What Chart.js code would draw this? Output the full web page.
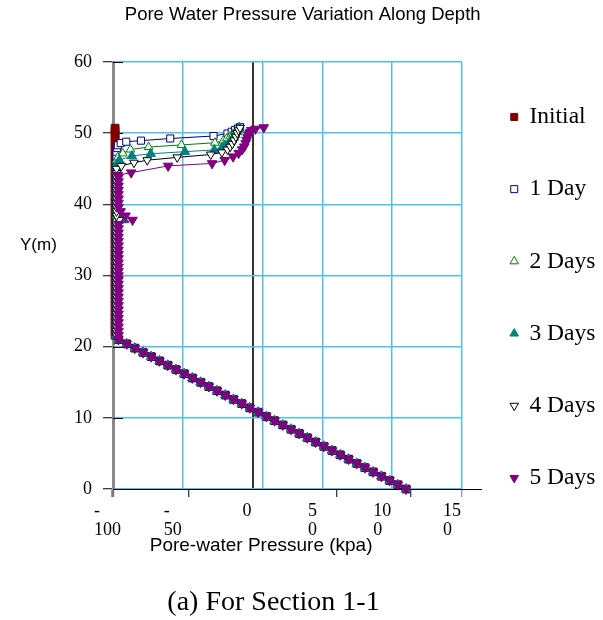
<!DOCTYPE html>
<html>
<head>
<meta charset="utf-8">
<title>Pore Water Pressure Variation Along Depth</title>
<script src="https://cdn.jsdelivr.net/npm/chart.js@4.4.1/dist/chart.umd.min.js"></script>
<style>
  html, body { margin: 0; padding: 0; background: #ffffff; }
  #wrap { width: 603px; height: 620px; }
</style>
</head>
<body>
<div id="wrap"><canvas id="chart" width="603" height="620"></canvas></div>
<script>
// ---- series ----
const seriesNames = ['Initial', '1 Day', '2 Days', '3 Days', '4 Days', '5 Days'];

// hydrostatic zone below the suction limit (elevation m, pore-water pressure kPa)
const lowerElevation = [0.0, 0.6, 1.2, 1.8, 2.4, 3.0, 3.6, 4.2, 4.8, 5.4, 6.0, 6.6, 7.2, 7.8, 8.4, 9.0, 9.6, 10.2,
  10.8, 11.4, 12.0, 12.6, 13.2, 13.8, 14.4, 15.0, 15.6, 16.2, 16.8, 17.4, 18.0, 18.6, 19.2, 19.8, 20.4, 21.0];
const lowerPressure = [109.9, 104.0, 98.1, 92.2, 86.3, 80.4, 74.6, 68.7, 62.8, 56.9, 51.0, 45.1, 39.2, 33.4, 27.5, 21.6, 15.7, 9.8,
  3.9, -2.0, -7.8, -13.7, -19.6, -25.5, -31.4, -37.3, -43.2, -49.0, -54.9, -60.8, -66.7, -72.6, -78.5, -84.4, -90.2, -96.1];

// suction-limited column shared by every series
const columnElevation = [21.6, 22.2, 22.8, 23.4, 24.0, 24.6, 25.2, 25.8, 26.4, 27.0, 27.6, 28.2, 28.8, 29.4,
  30.0, 30.6, 31.2, 31.8, 32.4, 33.0, 33.6, 34.2, 34.8, 35.4, 36.0, 36.6, 37.2];
const columnSuction = [-98.5, -97.5, -97.5, -97.5, -97.5, -96.0];

// upper zone with the wetting front, one pair of arrays per series
const initialElevation = [37.8, 38.4, 39.0, 39.6, 40.2, 40.8, 41.4, 42.0, 42.6, 43.2, 43.8, 44.4, 45.0, 45.6, 46.2, 46.8, 47.4,
  48.0, 48.6, 49.2, 49.8, 50.3, 50.7];
const initialPressure = [-98.5, -98.5, -98.5, -98.5, -98.5, -98.5, -98.5, -98.5, -98.5, -98.5, -98.5, -98.5, -98.5, -98.5, -98.5, -98.5, -98.5,
  -98.5, -98.5, -98.5, -98.5, -98.5, -98.5];

const day1Elevation = [37.8, 38.4, 39.0, 39.6, 40.2, 40.8, 41.4, 42.0, 42.6, 43.2, 43.8, 44.4, 45.0, 45.6, 46.2, 46.8, 47.4,
  47.9, 48.3, 48.6, 48.8, 48.95, 49.25, 49.6, 49.95, 50.2, 50.45, 50.65, 50.85];
const day1Pressure = [-97.5, -97.5, -97.5, -97.5, -97.5, -97.5, -97.5, -97.5, -97.5, -97.5, -97.5, -97.5, -97.5, -97.5, -97.5, -97.5, -97.5,
  -97.0, -96.5, -94.5, -90.5, -80.0, -59.0, -28.0, -18.0, -15.0, -12.5, -10.5, -9.0];

const day2Elevation = [37.8, 38.4, 39.0, 39.6, 40.2, 40.8, 41.4, 42.0, 42.6, 43.2, 43.8, 44.4, 45.0, 45.6, 46.2,
  46.6, 47.15, 47.7, 48.05, 48.35, 48.65, 48.95, 49.25, 49.55, 49.85, 50.15, 50.45, 50.75];
const day2Pressure = [-97.5, -97.5, -97.5, -97.5, -97.5, -97.5, -97.5, -97.5, -97.5, -97.5, -97.5, -97.5, -97.5, -97.5, -97.5,
  -96.5, -93.0, -87.5, -74.5, -51.0, -27.0, -21.0, -18.5, -16.0, -14.0, -12.5, -11.0, -9.5];

const day3Elevation = [37.8, 38.4, 39.0, 39.6, 40.2, 40.8, 41.4, 42.0, 42.6, 43.2, 43.8, 44.4, 45.0, 45.6,
  46.2, 46.8, 47.1, 47.4, 47.65, 47.95, 48.25, 48.6, 49.0, 49.4, 49.8, 50.2, 50.55, 50.8];
const day3Pressure = [-92.0, -96.5, -97.5, -97.5, -97.5, -97.5, -97.5, -97.5, -97.5, -97.5, -97.5, -97.5, -97.5, -97.5,
  -95.5, -86.5, -73.0, -48.5, -27.5, -22.0, -20.0, -17.0, -15.0, -13.5, -12.3, -11.2, -10.3, -9.5];

const day4Elevation = [37.8, 38.4, 39.0, 39.6, 40.2, 40.8, 41.4, 42.0, 42.6, 43.2, 43.8, 44.4, 45.0,
  45.4, 45.85, 46.2, 46.6, 47.0, 47.3, 47.7, 48.1, 48.5, 49.0, 49.5, 50.0, 50.4, 50.75];
const day4Pressure = [-95.5, -97.5, -97.5, -97.5, -97.5, -97.5, -97.5, -97.5, -97.5, -97.5, -97.5, -97.5, -97.5,
  -94.0, -85.0, -75.5, -54.0, -30.0, -22.0, -18.0, -16.0, -14.5, -13.2, -12.0, -11.0, -10.0, -9.0];

const day5Elevation = [37.8, 38.4, 39.0, 39.6, 40.2, 40.8, 41.4, 42.0, 42.6, 43.2, 43.8,
  44.1, 44.45, 45.4, 45.75, 46.2, 46.7, 47.2, 47.7, 48.1, 48.6, 49.0, 49.4, 49.8, 50.1, 50.4, 50.6, 50.8];
const day5Pressure = [-86.0, -91.0, -94.5, -96.0, -96.0, -96.0, -96.0, -96.0, -96.0, -96.0, -96.0,
  -96.5, -87.0, -60.5, -29.0, -20.0, -14.0, -10.0, -7.5, -6.0, -5.0, -4.3, -3.7, -3.0, -2.0, -1.0, 2.0, 8.0];

const upperElevation = [initialElevation, day1Elevation, day2Elevation, day3Elevation, day4Elevation, day5Elevation];
const upperPressure = [initialPressure, day1Pressure, day2Pressure, day3Pressure, day4Pressure, day5Pressure];

// ---- axes ----
const elevationTicks = [0, 10, 20, 30, 40, 50, 60];
const pressureTicks = [-100, -50, 0, 50, 100, 150];
const pressureTickLabels = [['-', '100'], ['-', '50'], '  0', [' 5', ' 0'], ['10', '0'], ['15', '0']];
const extraGridLines = [7];
const axisTickMarks = [-100, -46, 60, 113, 150];

// ---- look ----
const GRID_BLUE = '#4fc1f0';
const SERIF = '"Liberation Serif", "Times New Roman", serif';
const SANS = '"Liberation Sans", Arial, sans-serif';
const markerStyles = [
  { color: '#800000', fill: '#800000', shape: 'rect',     rotation: 0,   radius: 5.5 },
  { color: '#000080', fill: '#ffffff', shape: 'rect',     rotation: 0,   radius: 5 },
  { color: '#008000', fill: '#ffffff', shape: 'triangle', rotation: 0,   radius: 5 },
  { color: '#008080', fill: '#008080', shape: 'triangle', rotation: 0,   radius: 5.5 },
  { color: '#000000', fill: '#ffffff', shape: 'triangle', rotation: 180, radius: 5 },
  { color: '#800080', fill: '#800080', shape: 'triangle', rotation: 180, radius: 5.5 }
];

function profile(i) {
  const pts = [];
  lowerElevation.forEach((y, k) => pts.push({ x: lowerPressure[k], y }));
  columnElevation.forEach(y => pts.push({ x: columnSuction[i], y }));
  upperElevation[i].forEach((y, k) => pts.push({ x: upperPressure[i][k], y }));
  return pts;
}

const datasets = seriesNames.map((name, i) => {
  const s = markerStyles[i];
  return {
    label: name,
    data: profile(i),
    showLine: true,
    order: seriesNames.length - 1 - i,
    borderColor: s.color,
    borderWidth: 1,
    backgroundColor: s.fill,
    pointStyle: s.shape,
    pointRotation: s.rotation,
    pointRadius: s.radius,
    pointBorderColor: s.color,
    pointBackgroundColor: s.fill,
    pointBorderWidth: 1,
    clip: false
  };
});

const allXTicks = [...new Set([...pressureTicks, ...extraGridLines, ...axisTickMarks])].sort((a, b) => a - b);

// extra strokes around the axes: inner y tick marks, x axis run-out, horizontal Y label
const axisDecor = {
  id: 'axisDecor',
  beforeDatasetsDraw(chart) {
    const { ctx, chartArea: a, scales: { y } } = chart;
    ctx.save();
    ctx.strokeStyle = '#000';
    ctx.lineWidth = 1;
    elevationTicks.forEach(v => {
      const py = Math.round(y.getPixelForValue(v)) + 0.5;
      ctx.beginPath();
      ctx.moveTo(a.left, py);
      ctx.lineTo(a.left + 10, py);
      ctx.stroke();
    });
    const by = Math.round(a.bottom) + 0.5;
    ctx.beginPath();
    ctx.moveTo(a.right, by);
    ctx.lineTo(a.right + 20, by);
    ctx.stroke();
    ctx.restore();
  },
  afterDraw(chart) {
    const { ctx, chartArea: a } = chart;
    ctx.save();
    ctx.fillStyle = '#000';
    ctx.font = '17px ' + SANS;
    ctx.textAlign = 'left';
    ctx.textBaseline = 'middle';
    ctx.fillText('Y(m)', a.left - 93, a.top + 183);
    ctx.restore();
  }
};

Chart.defaults.font.family = SANS;
Chart.defaults.color = '#000';

new Chart(document.getElementById('chart'), {
  type: 'scatter',
  data: { datasets },
  plugins: [axisDecor],
  options: {
    responsive: false,
    animation: false,
    devicePixelRatio: 1,
    layout: { padding: { left: 0, right: -2.4, top: 0, bottom: 0 } },
    plugins: {
      title: {
        display: true,
        text: 'Pore Water Pressure Variation Along Depth',
        font: { family: SANS, size: 18.5, weight: 'normal' },
        color: '#000',
        padding: { top: 4, bottom: 35.8 }
      },
      subtitle: {
        display: true,
        position: 'bottom',
        fullSize: false,
        text: '(a) For Section 1-1    ',
        font: { family: SERIF, size: 28, weight: 'normal' },
        color: '#000',
        padding: { top: 29.6, bottom: 0.2 }
      },
      legend: {
        position: 'right',
        align: 'start',
        reverse: true,
        title: { display: true, text: '', font: { size: 10 }, padding: { top: 44.5, bottom: 0 } },
        labels: {
          usePointStyle: true,
          boxWidth: 7,
          boxHeight: 7,
          padding: 48.7,
          color: '#000',
          font: { family: SERIF, size: 23.5 }
        }
      },
      tooltip: { enabled: false }
    },
    scales: {
      x: {
        type: 'linear',
        position: 'bottom',
        min: -100,
        max: 150,
        afterBuildTicks(scale) { scale.ticks = allXTicks.map(v => ({ value: v })); },
        afterFit(scale) { scale.height = 67.6; },
        grid: {
          color(ctx) {
            const v = ctx.tick && ctx.tick.value;
            if (v === 0) return '#333333';
            if (v === -100) return 'rgba(0,0,0,0)';
            if (pressureTicks.includes(v) || extraGridLines.includes(v)) return GRID_BLUE;
            return 'rgba(0,0,0,0)';
          },
          lineWidth(ctx) { return ctx.tick && ctx.tick.value === 0 ? 2 : 1.5; },
          tickColor(ctx) {
            const v = ctx.tick && ctx.tick.value;
            if (!axisTickMarks.includes(v)) return 'rgba(0,0,0,0)';
            return (v === -100 || v === 150) ? '#7a7a7a' : '#000000';
          },
          tickWidth(ctx) { return ctx.tick && ctx.tick.value === -100 ? 3 : 1; },
          tickLength: 8,
          drawTicks: true
        },
        border: { color: '#000', width: 1 },
        ticks: {
          autoSkip: false,
          maxRotation: 0,
          align: 'start',
          labelOffset: -19,
          padding: 4,
          color: '#000',
          font: { family: SERIF, size: 18, lineHeight: 1.1 },
          callback(value) {
            const k = pressureTicks.indexOf(value);
            return k >= 0 ? pressureTickLabels[k] : '';
          }
        },
        title: {
          display: true,
          text: 'Pore-water Pressure (kpa)          ',
          color: '#000',
          font: { family: SANS, size: 19, lineHeight: 1.0 },
          padding: { top: 0, bottom: 1 }
        }
      },
      y: {
        type: 'linear',
        min: 0,
        max: 60,
        afterBuildTicks(scale) { scale.ticks = elevationTicks.map(v => ({ value: v })); },
        afterFit(scale) { scale.width = 113; },
        grid: { color: GRID_BLUE, lineWidth: 1.5, tickColor: '#000', tickWidth: 1, tickLength: 10 },
        border: { color: '#8a8a8a', width: 3 },
        ticks: {
          padding: 11,
          color: '#000',
          font: { family: SERIF, size: 18 }
        }
      }
    }
  }
});
</script>
</body>
</html>
